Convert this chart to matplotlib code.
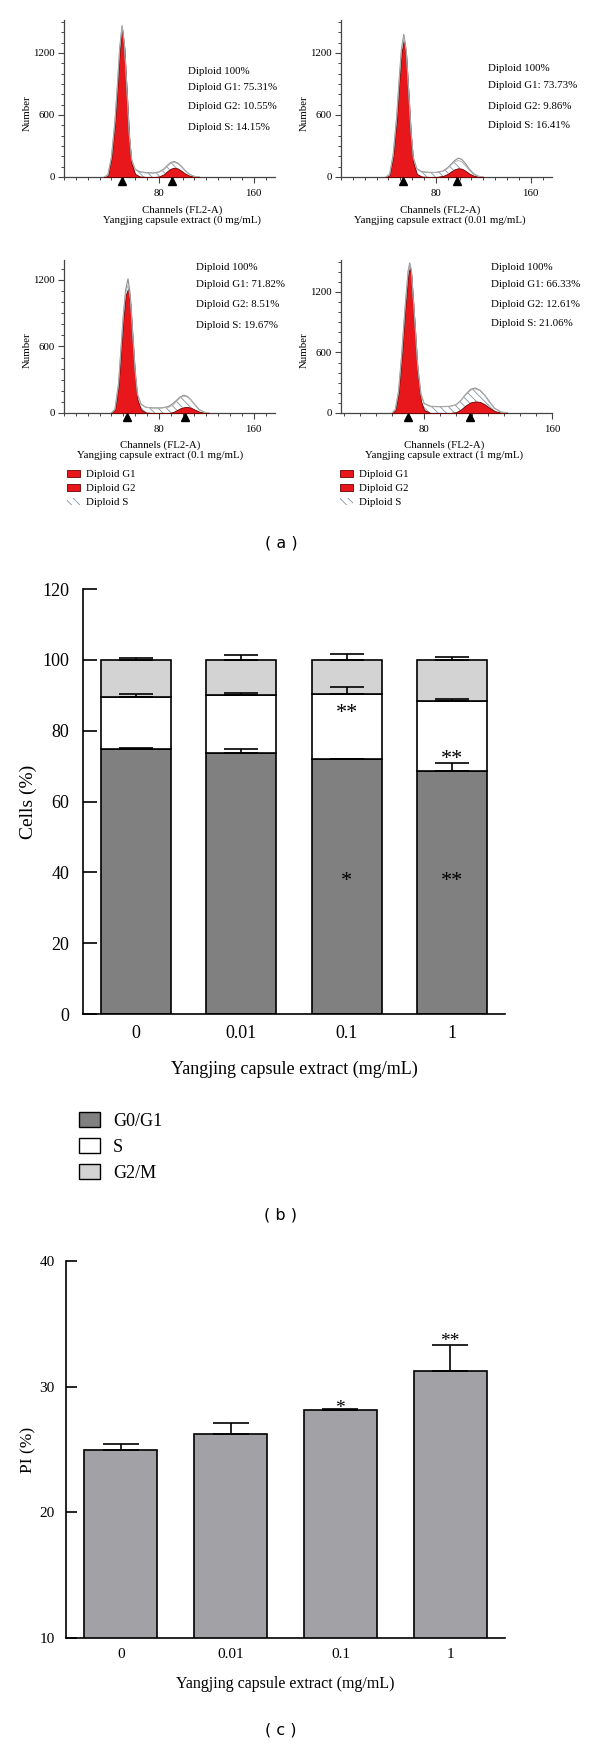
import numpy as np
from matplotlib import pyplot as plt
from matplotlib.patches import Patch
from matplotlib.transforms import blended_transform_factory
from matplotlib.ticker import MultipleLocator

W, H = 600, 1746
SERIF = ["Liberation Serif", "DejaVu Serif"]
plt.rcParams["font.family"] = SERIF
plt.rcParams["hatch.linewidth"] = 0.6

# ---- (a) flow cytometry histograms ----
doses = ["0", "0.01", "0.1", "1"]
g1_pct = ["75.31", "73.73", "71.82", "66.33"]
g2_pct = ["10.55", "9.86", "8.51", "12.61"]
s_pct = ["14.15", "16.41", "19.67", "21.06"]

ch_0 = [34, 37, 40, 43, 45, 47, 49, 51, 53, 55, 57, 60, 64, 70, 76, 80, 84, 87, 90, 93, 96, 99, 102, 106, 110, 114]
g1_0 = [0, 15, 180, 520, 860, 1220, 1440, 1240, 820, 380, 130, 30, 5, 0, 0, 0, 0, 0, 0, 0, 0, 0, 0, 0, 0, 0]
s_0 = [0, 0, 5, 12, 18, 24, 30, 35, 38, 40, 42, 42, 40, 38, 38, 40, 44, 48, 52, 52, 48, 40, 28, 12, 3, 0]
g2_0 = [0, 0, 0, 0, 0, 0, 0, 0, 0, 0, 0, 0, 0, 0, 0, 5, 25, 55, 80, 90, 82, 60, 35, 12, 3, 0]
data_0 = [0, 20, 190, 540, 880, 1250, 1460, 1270, 860, 420, 170, 75, 50, 42, 40, 48, 75, 110, 140, 150, 135, 105, 65, 25, 6, 0]

ch_1 = [38, 41, 44, 47, 49, 51, 53, 55, 57, 59, 61, 64, 68, 74, 80, 86, 90, 93, 96, 99, 102, 105, 108, 112, 116, 120]
g1_1 = [0, 20, 200, 560, 900, 1200, 1330, 1180, 800, 400, 140, 30, 5, 0, 0, 0, 0, 0, 0, 0, 0, 0, 0, 0, 0, 0]
s_1 = [0, 0, 6, 14, 20, 26, 32, 38, 42, 44, 45, 45, 44, 42, 42, 45, 52, 62, 72, 75, 68, 52, 32, 12, 3, 0]
g2_1 = [0, 0, 0, 0, 0, 0, 0, 0, 0, 0, 0, 0, 0, 0, 0, 10, 30, 55, 75, 85, 80, 60, 35, 12, 3, 0]
data_1 = [0, 25, 215, 585, 930, 1240, 1380, 1230, 850, 450, 190, 80, 52, 45, 44, 58, 90, 125, 160, 182, 170, 130, 80, 30, 7, 0]

ch_2 = [40, 43, 46, 48, 50, 52, 54, 56, 58, 60, 62, 65, 69, 75, 82, 88, 92, 95, 98, 101, 104, 107, 110, 114, 118, 122]
g1_2 = [0, 30, 250, 550, 850, 1060, 1120, 980, 650, 330, 120, 30, 5, 0, 0, 0, 0, 0, 0, 0, 0, 0, 0, 0, 0, 0]
s_2 = [0, 2, 8, 14, 20, 26, 32, 38, 42, 45, 46, 46, 45, 44, 45, 50, 62, 80, 95, 100, 90, 70, 45, 18, 5, 0]
g2_2 = [0, 0, 0, 0, 0, 0, 0, 0, 0, 0, 0, 0, 0, 0, 0, 0, 8, 25, 42, 52, 55, 48, 32, 12, 3, 0]
data_2 = [0, 35, 265, 570, 875, 1110, 1210, 1060, 720, 390, 170, 80, 52, 46, 46, 58, 85, 115, 145, 160, 150, 120, 80, 32, 8, 0]

ch_3 = [60, 62, 64, 66, 68, 70, 71, 72, 74, 76, 78, 80, 84, 90, 96, 100, 103, 106, 109, 112, 115, 118, 121, 124, 128, 132]
g1_3 = [0, 30, 200, 560, 1000, 1370, 1438, 1370, 900, 400, 120, 30, 0, 0, 0, 0, 0, 0, 0, 0, 0, 0, 0, 0, 0, 0]
s_3 = [0, 2, 8, 14, 22, 30, 34, 38, 46, 54, 60, 62, 62, 62, 64, 72, 88, 105, 120, 125, 110, 85, 55, 25, 6, 0]
g2_3 = [0, 0, 0, 0, 0, 0, 0, 0, 0, 0, 0, 0, 0, 0, 0, 8, 35, 75, 105, 115, 110, 85, 50, 20, 4, 0]
data_3 = [0, 35, 215, 585, 1030, 1410, 1488, 1420, 960, 470, 190, 95, 66, 63, 66, 82, 125, 185, 235, 248, 225, 175, 110, 48, 11, 0]

peak_marks = [[49, 91], [52.5, 98], [53, 102], [70, 109]]
hist_xlim = [(0, 178), (0, 178), (0, 178), (28, 160)]
hist_ytop = [1519, 1519, 1380, 1517]

# ---- (b) cell cycle distribution ----
groups = ["0", "0.01", "0.1", "1"]
g0g1 = [74.9, 73.6, 71.9, 68.7]
g0g1_err = [0.3, 1.2, 0.1, 2.1]
s_phase = [14.7, 16.4, 18.5, 19.7]
s_err = [0.7, 0.7, 1.8, 0.6]
g2m = [10.4, 10.0, 9.6, 11.6]
g2m_err = [0.5, 1.5, 1.7, 0.9]
sig_b = [(2, 87.0, "**"), (2, 39.8, "*"), (3, 74.1, "**"), (3, 39.8, "**")]

# ---- (c) proliferation index ----
pi_vals = [25.0, 26.2, 28.1, 31.2]
pi_err = [0.4, 0.9, 0.1, 2.1]
sig_c = [(2, 28.8, "*"), (3, 34.1, "**")]

RED = "#e8171b"
HATCH = "#7f93a8"


def px_axes(fig, left, top, right, bottom):
    return fig.add_axes([left / W, 1 - bottom / H, (right - left) / W, (bottom - top) / H])


def draw_hist(ax, i, ch, g1, s, g2, data, label_x):
    ch = np.array(ch)
    g1, s, g2 = np.array(g1), np.array(s), np.array(g2)
    ax.fill_between(ch, 0, g1, facecolor=RED, edgecolor="#6a0000", linewidth=0.6, zorder=3)
    ax.fill_between(ch, 0, g2, facecolor=RED, edgecolor="#6a0000", linewidth=0.6, zorder=3)
    ax.fill_between(ch, g1 + g2, g1 + g2 + s, facecolor="white", edgecolor=HATCH,
                    hatch="\\\\\\\\", linewidth=0, zorder=2)
    ax.plot(ch, data, color="#8c8c8c", lw=0.8, zorder=4)
    ax.plot(ch, g1 + g2 + s, color="#b0b0b0", lw=0.6, zorder=4)

    ax.set_xlim(*hist_xlim[i])
    ax.set_ylim(0, hist_ytop[i])
    for side in ["top", "right"]:
        ax.spines[side].set_visible(False)
    for side in ["left", "bottom"]:
        ax.spines[side].set_color("#444444")
        ax.spines[side].set_linewidth(0.9)
    ax.set_xticks([80, 160])
    ax.xaxis.set_minor_locator(MultipleLocator(10))
    ax.set_yticks([0, 600, 1200])
    ax.yaxis.set_minor_locator(MultipleLocator(100))
    ax.tick_params(axis="both", which="major", direction="out", length=4, width=0.8,
                   labelsize=7.8, color="#444444")
    ax.tick_params(axis="x", which="major", pad=5)
    ax.tick_params(axis="y", which="major", pad=2.5)
    ax.tick_params(axis="both", which="minor", direction="out", length=2.5, width=0.7,
                   color="#444444")

    trans = blended_transform_factory(ax.transData, ax.transAxes)
    ax.plot(peak_marks[i], [-0.028, -0.028], ls="none", marker="^", ms=5.5,
            color="black", transform=trans, clip_on=False, zorder=5)

    ax.set_ylabel("Number", fontsize=7.8)
    ax.yaxis.set_label_coords(-0.152, 0.41)
    ax.set_xlabel("Channels (FL2-A)\nYangjing capsule extract (%s mg/mL)" % doses[i],
                  fontsize=7.8, linespacing=1.05)
    ax.xaxis.set_label_coords(label_x, -0.18)


def main() -> None:
    fig = plt.figure(figsize=(W / 100, H / 100), dpi=100)

    hist_sets = [(ch_0, g1_0, s_0, g2_0, data_0), (ch_1, g1_1, s_1, g2_1, data_1),
                 (ch_2, g1_2, s_2, g2_2, data_2), (ch_3, g1_3, s_3, g2_3, data_3)]
    boxes = [(64, 20, 275, 177), (341, 20, 552, 177), (64, 260, 275, 413), (341, 260, 552, 413)]
    label_xs = [0.56, 0.47, 0.455, 0.49]
    text_x = [0.588, 0.697, 0.626, 0.711]
    text_y = [[0.675, 0.573, 0.446, 0.318], [0.694, 0.580, 0.452, 0.325],
              [0.954, 0.837, 0.706, 0.575], [0.954, 0.843, 0.706, 0.582]]

    for i in range(4):
        ax = px_axes(fig, *boxes[i])
        draw_hist(ax, i, *hist_sets[i], label_xs[i])
        lines = ["Diploid 100%", "Diploid G1: %s%%" % g1_pct[i],
                 "Diploid G2: %s%%" % g2_pct[i], "Diploid S: %s%%" % s_pct[i]]
        for txt, ty in zip(lines, text_y[i]):
            ax.text(text_x[i], ty, txt, transform=ax.transAxes, fontsize=7.8,
                    ha="left", va="center")
        if i >= 2:
            handles = [Patch(facecolor=RED, edgecolor="#6a0000", lw=0.6, label="Diploid G1"),
                       Patch(facecolor=RED, edgecolor="#6a0000", lw=0.6, label="Diploid G2"),
                       Patch(facecolor="white", edgecolor=HATCH, hatch="\\\\\\\\", lw=0,
                             label="Diploid S")]
            ax.legend(handles=handles, loc="upper left",
                      bbox_to_anchor=(0.014 if i == 2 else -0.005, -0.37),
                      frameon=False, fontsize=7.8, handlelength=1.2, handleheight=0.65,
                      labelspacing=0.42, handletextpad=0.6, borderpad=0, borderaxespad=0)

    # panel labels
    for txt, y in [("( a )", 543), ("( b )", 1215), ("( c )", 1730)]:
        fig.text(281 / W, 1 - y / H, txt, ha="center", va="center", fontsize=11.5,
                 family="DejaVu Sans")

    # ---- (b) stacked bars ----
    x = np.arange(len(groups))
    g1 = np.array(g0g1)
    sp = np.array(s_phase)
    g2 = np.array(g2m)
    zeros = np.zeros(len(groups))
    axb = px_axes(fig, 83, 589, 505, 1014)
    bw = 0.665
    axb.bar(x, g1, bw, color="#808080", edgecolor="black", linewidth=1.2, zorder=1)
    axb.bar(x, sp, bw, bottom=g1, color="white", edgecolor="black", linewidth=1.2, zorder=1)
    axb.bar(x, g2, bw, bottom=g1 + sp, color="#d3d3d3", edgecolor="black", linewidth=1.2, zorder=1)
    for top, err in [(g1, g0g1_err), (g1 + sp, s_err), (g1 + sp + g2, g2m_err)]:
        axb.errorbar(x, top, yerr=[zeros, err], fmt="none", ecolor="black",
                     elinewidth=1.2, capsize=12.5, capthick=1.2, zorder=3)
    for xi, yi, s in sig_b:
        axb.annotate(s, (xi, yi), xytext=(0, -9), textcoords="offset points",
                     ha="center", va="baseline", fontsize=16)
    axb.set_xlim(-0.5, 3.5)
    axb.set_ylim(0, 120)
    axb.set_yticks(np.arange(0, 121, 20))
    axb.set_xticks(x)
    axb.set_xticklabels(groups)
    for side in ["top", "right"]:
        axb.spines[side].set_visible(False)
    for side in ["left", "bottom"]:
        axb.spines[side].set_linewidth(1.2)
    axb.tick_params(axis="y", direction="in", length=10, width=1.2, labelsize=13, pad=10)
    axb.tick_params(axis="x", length=0, labelsize=13, pad=8)
    axb.set_ylabel("Cells (%)", fontsize=14)
    axb.yaxis.set_label_coords(-0.109, 0.5)
    axb.set_xlabel("Yangjing capsule extract (mg/mL)", fontsize=13)
    axb.xaxis.set_label_coords(0.5, -0.11)
    handles = [Patch(facecolor="#808080", edgecolor="black", lw=1.0, label="G0/G1"),
               Patch(facecolor="white", edgecolor="black", lw=1.0, label="S"),
               Patch(facecolor="#d3d3d3", edgecolor="black", lw=1.0, label="G2/M")]
    axb.legend(handles=handles, loc="upper left", bbox_to_anchor=(-0.009, -0.231),
               frameon=False, fontsize=13, handlelength=1.15, handleheight=0.9,
               labelspacing=0.45, handletextpad=0.72, borderpad=0, borderaxespad=0)

    # ---- (c) PI bars ----
    axc = px_axes(fig, 66, 1260.7, 505, 1638.3)
    axc.bar(x, pi_vals, bw, color="#a2a2a6", edgecolor="black", linewidth=1.2, zorder=1)
    axc.errorbar(x, pi_vals, yerr=[zeros, pi_err], fmt="none", ecolor="black",
                 elinewidth=1.2, capsize=13, capthick=1.2, zorder=3)
    for xi, yi, s in sig_c:
        axc.annotate(s, (xi, yi), xytext=(0, -8), textcoords="offset points",
                     ha="center", va="baseline", fontsize=14)
    axc.set_xlim(-0.5, 3.5)
    axc.set_ylim(10, 40)
    axc.set_yticks([10, 20, 30, 40])
    axc.set_xticks(x)
    axc.set_xticklabels(groups)
    for side in ["top", "right"]:
        axc.spines[side].set_visible(False)
    for side in ["left", "bottom"]:
        axc.spines[side].set_linewidth(1.2)
    axc.tick_params(axis="y", direction="in", length=8, width=1.2, labelsize=11, pad=8)
    axc.tick_params(axis="x", length=0, labelsize=11, pad=7)
    axc.set_ylabel("PI (%)", fontsize=12.5)
    axc.yaxis.set_label_coords(-0.068, 0.5)
    axc.set_xlabel("Yangjing capsule extract (mg/mL)", fontsize=11.5)
    axc.xaxis.set_label_coords(0.5, -0.099)

    fig.savefig("out.png", dpi=100)
    plt.close(fig)


if __name__ == "__main__":
    main()
